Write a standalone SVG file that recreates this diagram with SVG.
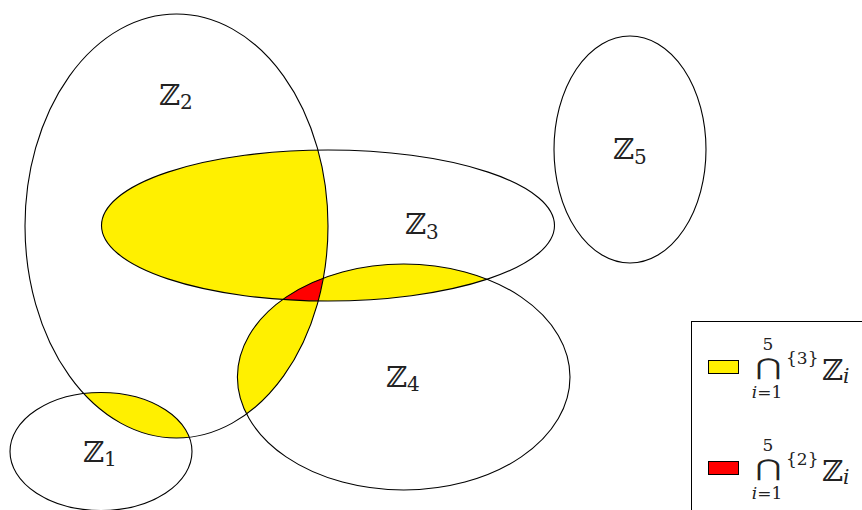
<svg xmlns="http://www.w3.org/2000/svg" width="862" height="510" viewBox="0 0 862 510">
<style>
.set{fill:none;stroke:#000;stroke-width:1.1}
.y{fill:#fff000}
.r{fill:#ff0000}
.lbl{font-family:"DejaVu Serif",serif;font-size:29px;fill:#222}
.sub{font-family:"DejaVu Serif",serif;font-size:20px;fill:#222}
.sm{font-family:"DejaVu Serif",serif;font-size:17px;fill:#222}
.cap{font-family:"DejaVu Sans",sans-serif;font-size:23px;fill:#222}
.sw{stroke:#000;stroke-width:1}
</style>
<defs>
<clipPath id="c1"><ellipse cx="101" cy="451.5" rx="91" ry="59"/></clipPath>
<clipPath id="c2"><ellipse cx="176.5" cy="226" rx="151.5" ry="212"/></clipPath>
<clipPath id="c3"><ellipse cx="328" cy="225.5" rx="226.5" ry="75.5"/></clipPath>
<clipPath id="c4"><ellipse cx="403.7" cy="377" rx="166.3" ry="113"/></clipPath>
</defs>
<g id="fills">
<g clip-path="url(#c2)"><ellipse class="y" cx="328" cy="225.5" rx="226.5" ry="75.5"/></g>
<g clip-path="url(#c3)"><ellipse class="y" cx="403.7" cy="377" rx="166.3" ry="113"/></g>
<g clip-path="url(#c2)"><ellipse class="y" cx="403.7" cy="377" rx="166.3" ry="113"/></g>
<g clip-path="url(#c2)"><ellipse class="y" cx="101" cy="451.5" rx="91" ry="59"/></g>
<g clip-path="url(#c2)"><g clip-path="url(#c3)"><ellipse class="r" cx="403.7" cy="377" rx="166.3" ry="113"/></g></g>
</g>
<g id="Z1">
<ellipse class="set" cx="101" cy="451.5" rx="91" ry="59"/>
<text class="lbl" x="83" y="462">ℤ</text><text class="sub" x="104" y="466">1</text>
</g>
<g id="Z2">
<ellipse class="set" cx="176.5" cy="226" rx="151.5" ry="212"/>
<text class="lbl" x="159" y="105">ℤ</text><text class="sub" x="180" y="108.5">2</text>
</g>
<g id="Z3">
<ellipse class="set" cx="328" cy="225.5" rx="226.5" ry="75.5"/>
<text class="lbl" x="405" y="234">ℤ</text><text class="sub" x="426" y="238.5">3</text>
</g>
<g id="Z4">
<ellipse class="set" cx="403.7" cy="377" rx="166.3" ry="113"/>
<text class="lbl" x="386" y="387">ℤ</text><text class="sub" x="407" y="390.5">4</text>
</g>
<g id="Z5">
<ellipse class="set" cx="630" cy="149.5" rx="76" ry="113.5"/>
<text class="lbl" x="613" y="159">ℤ</text><text class="sub" x="634" y="163.5">5</text>
</g>
<g id="connectors"></g>
<g id="legend">
<rect x="691.5" y="321.5" width="200" height="200" fill="#fff" stroke="#000" stroke-width="1"/>
<rect class="y sw" x="708.5" y="360.5" width="30" height="13"/>
<text class="sm" x="768" y="350" text-anchor="middle">5</text>
<text class="cap" transform="translate(768,375) scale(1.35,1)" text-anchor="middle">⋂</text>
<text class="sm" x="767" y="398" text-anchor="middle"><tspan font-style="italic">i</tspan>=1</text>
<text class="sm" x="786" y="364">{3}</text>
<text class="lbl" x="822" y="380">ℤ</text><text class="sub" x="843" y="383" font-style="italic">i</text>
<rect class="r sw" x="708.5" y="461.5" width="30" height="13"/>
<text class="sm" x="768" y="451" text-anchor="middle">5</text>
<text class="cap" transform="translate(768,476) scale(1.35,1)" text-anchor="middle">⋂</text>
<text class="sm" x="767" y="499" text-anchor="middle"><tspan font-style="italic">i</tspan>=1</text>
<text class="sm" x="786" y="465">{2}</text>
<text class="lbl" x="822" y="481">ℤ</text><text class="sub" x="843" y="484" font-style="italic">i</text>
</g>
</svg>
